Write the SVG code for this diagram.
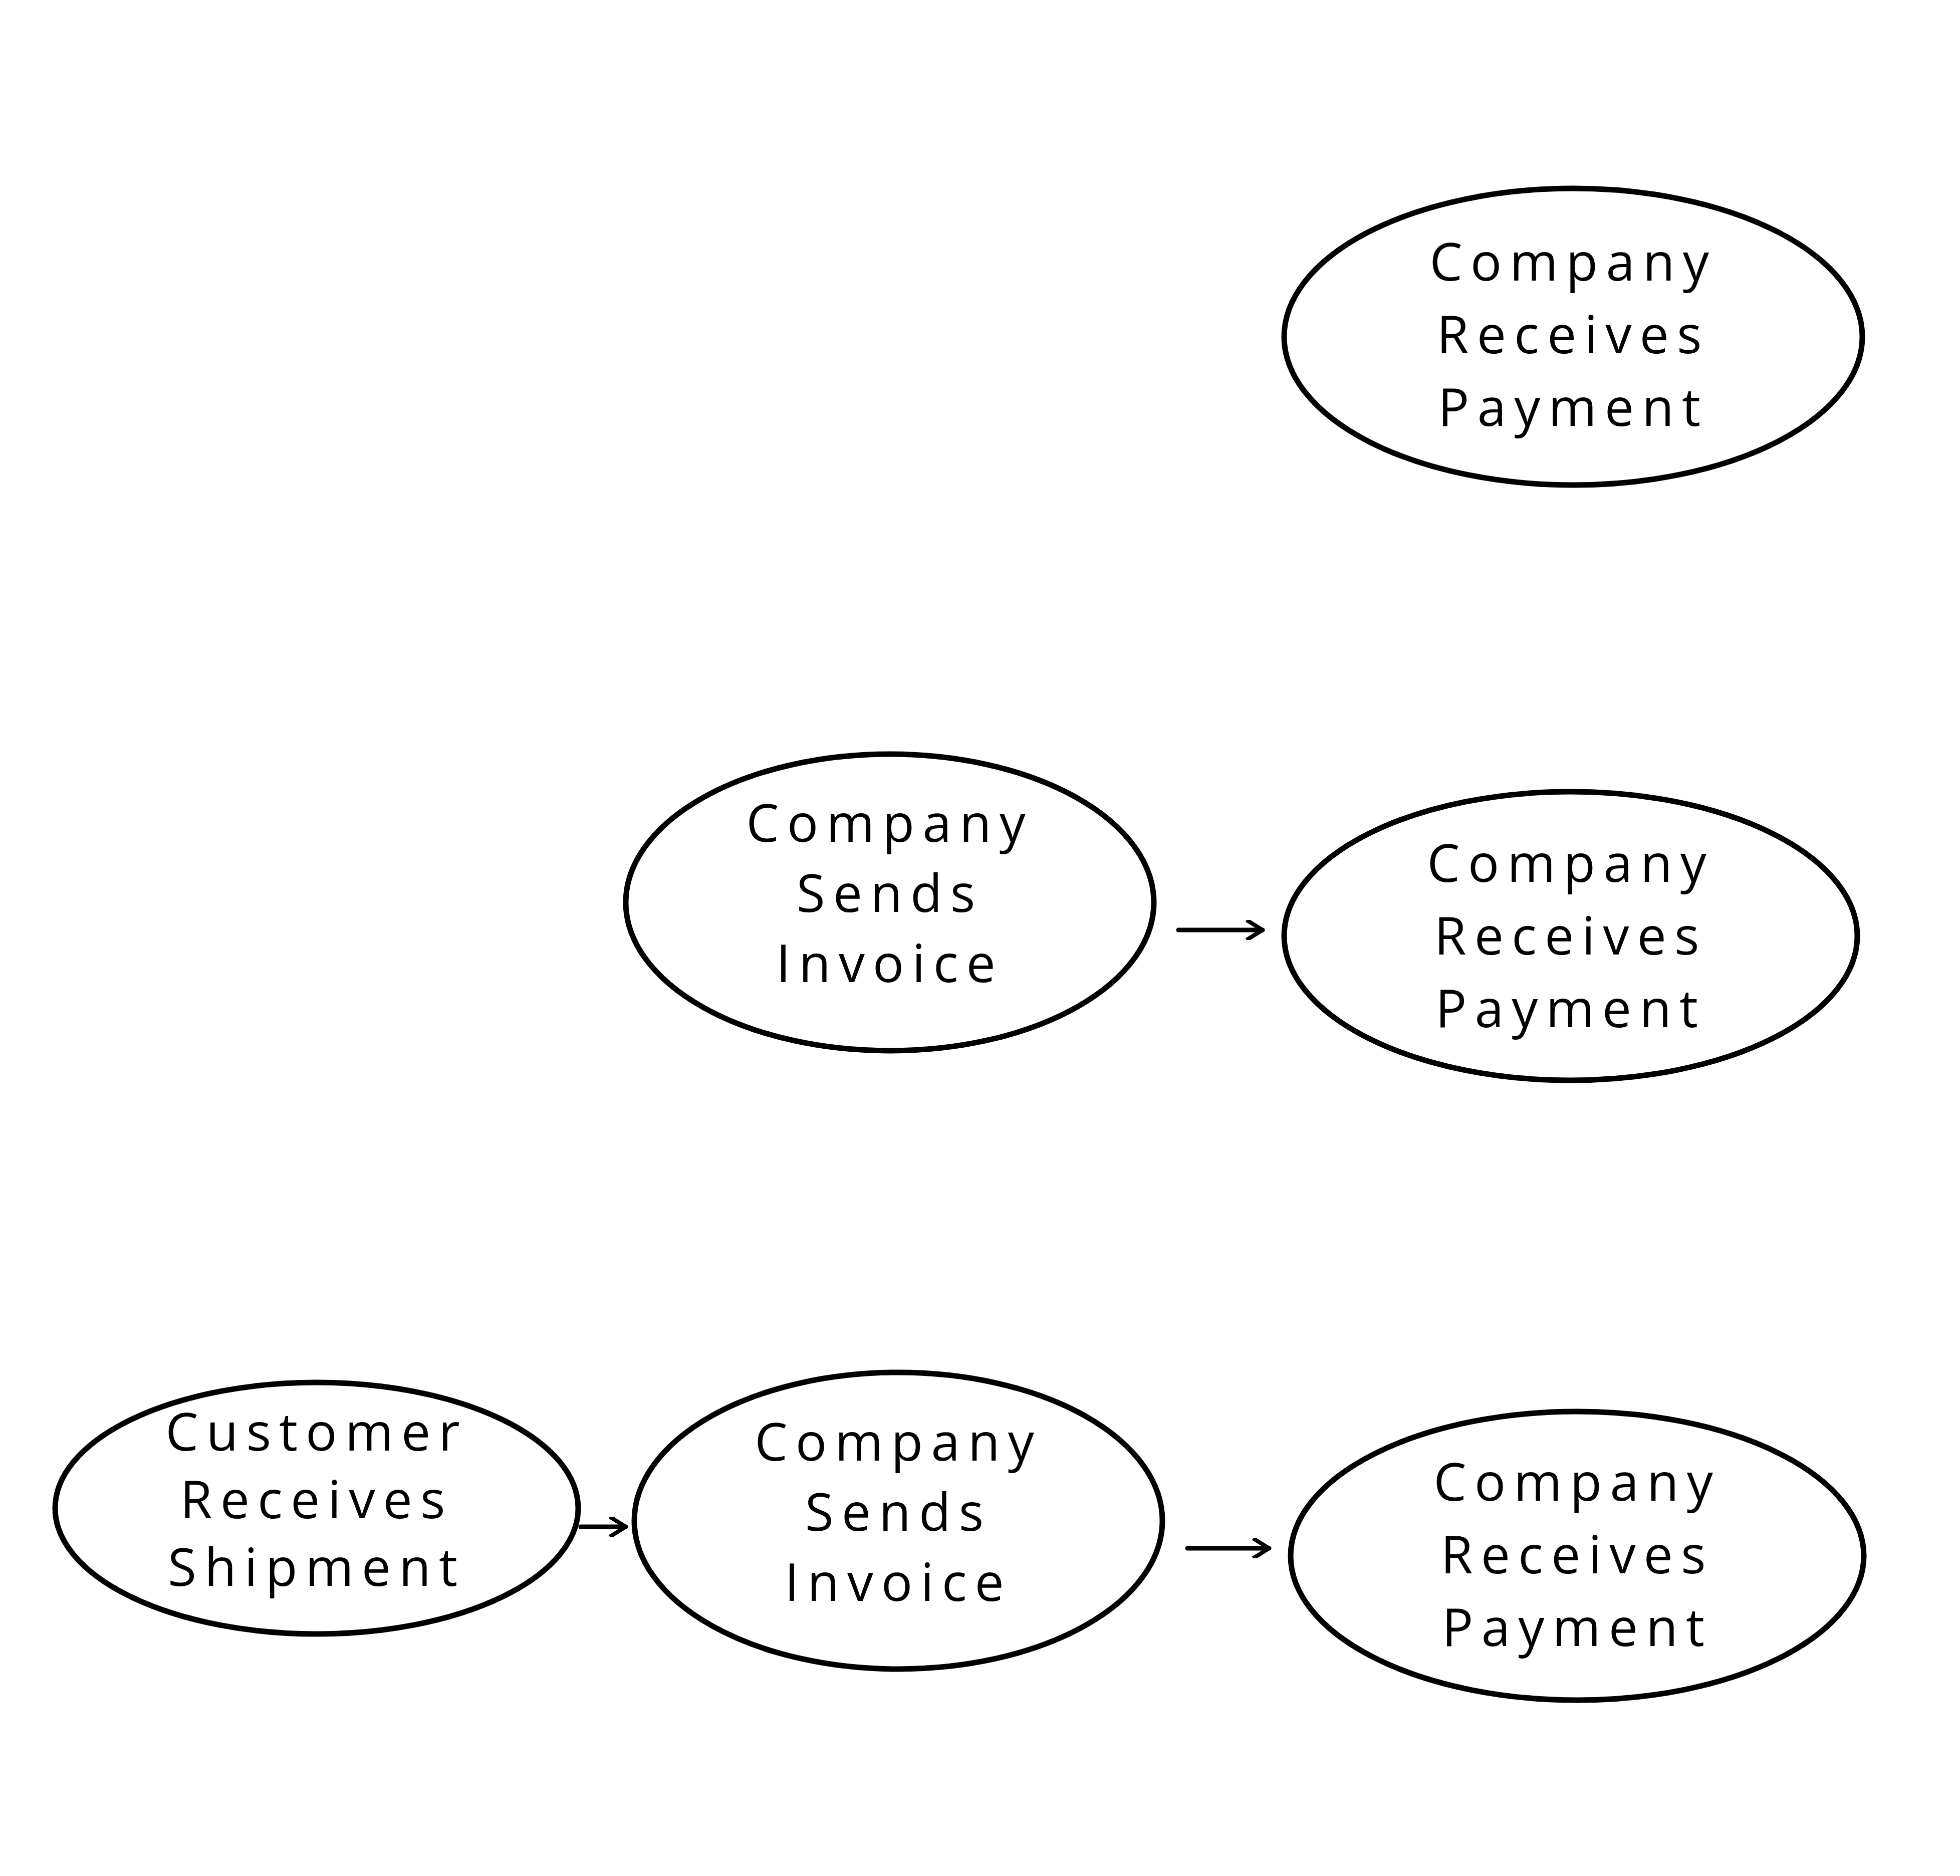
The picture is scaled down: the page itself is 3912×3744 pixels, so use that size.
<svg xmlns="http://www.w3.org/2000/svg" width="3912" height="3744" viewBox="0 0 3912 3744">
<style>
.n{fill:#fff;stroke:#000;stroke-width:11}
.t{font-family:"Open Sans","Liberation Sans",sans-serif;font-size:104px;letter-spacing:16px;text-anchor:middle;fill:#000}
.c{stroke:#000;stroke-width:9;fill:none;stroke-linecap:round;stroke-linejoin:round}
</style>
<defs><marker id="a" viewBox="0 0 10 10" refX="9" refY="5" markerWidth="40" markerHeight="40" markerUnits="userSpaceOnUse" orient="auto"><path d="M1,0 L9,5 L1,10" fill="none" stroke="#000" stroke-width="2"/></marker></defs>
<rect width="3912" height="3744" fill="#fff"/>
<g id="n1"><ellipse class="n" cx="3140" cy="672" rx="577" ry="296"/>
<text class="t" x="3140" y="560">Company</text><text class="t" x="3140" y="705">Receives</text><text class="t" x="3140" y="850">Payment</text></g>
<g id="n2"><ellipse class="n" cx="1776" cy="1801" rx="527" ry="296"/>
<text class="t" x="1776" y="1680">Company</text><text class="t" x="1776" y="1820">Sends</text><text class="t" x="1776" y="1960">Invoice</text></g>
<g id="n3"><ellipse class="n" cx="3135" cy="1868" rx="572" ry="288"/>
<text class="t" x="3135" y="1760">Company</text><text class="t" x="3135" y="1905">Receives</text><text class="t" x="3135" y="2050">Payment</text></g>
<g id="n4"><ellipse class="n" cx="632" cy="3010" rx="522" ry="251"/>
<text class="t" x="632" y="2895">Customer</text><text class="t" x="632" y="3030">Receives</text><text class="t" x="632" y="3165">Shipment</text></g>
<g id="n5"><ellipse class="n" cx="1793" cy="3035" rx="527" ry="296"/>
<text class="t" x="1793" y="2915">Company</text><text class="t" x="1793" y="3055">Sends</text><text class="t" x="1793" y="3195">Invoice</text></g>
<g id="n6"><ellipse class="n" cx="3148" cy="3105" rx="572" ry="288"/>
<text class="t" x="3148" y="2995">Company</text><text class="t" x="3148" y="3140">Receives</text><text class="t" x="3148" y="3285">Payment</text></g>
<g id="connectors">
<line class="c" x1="2352" y1="1856" x2="2520" y2="1856" marker-end="url(#a)"/>
<line class="c" x1="1159" y1="3047" x2="1249" y2="3047" marker-end="url(#a)"/>
<line class="c" x1="2370" y1="3090" x2="2533" y2="3090" marker-end="url(#a)"/>
</g>
</svg>
